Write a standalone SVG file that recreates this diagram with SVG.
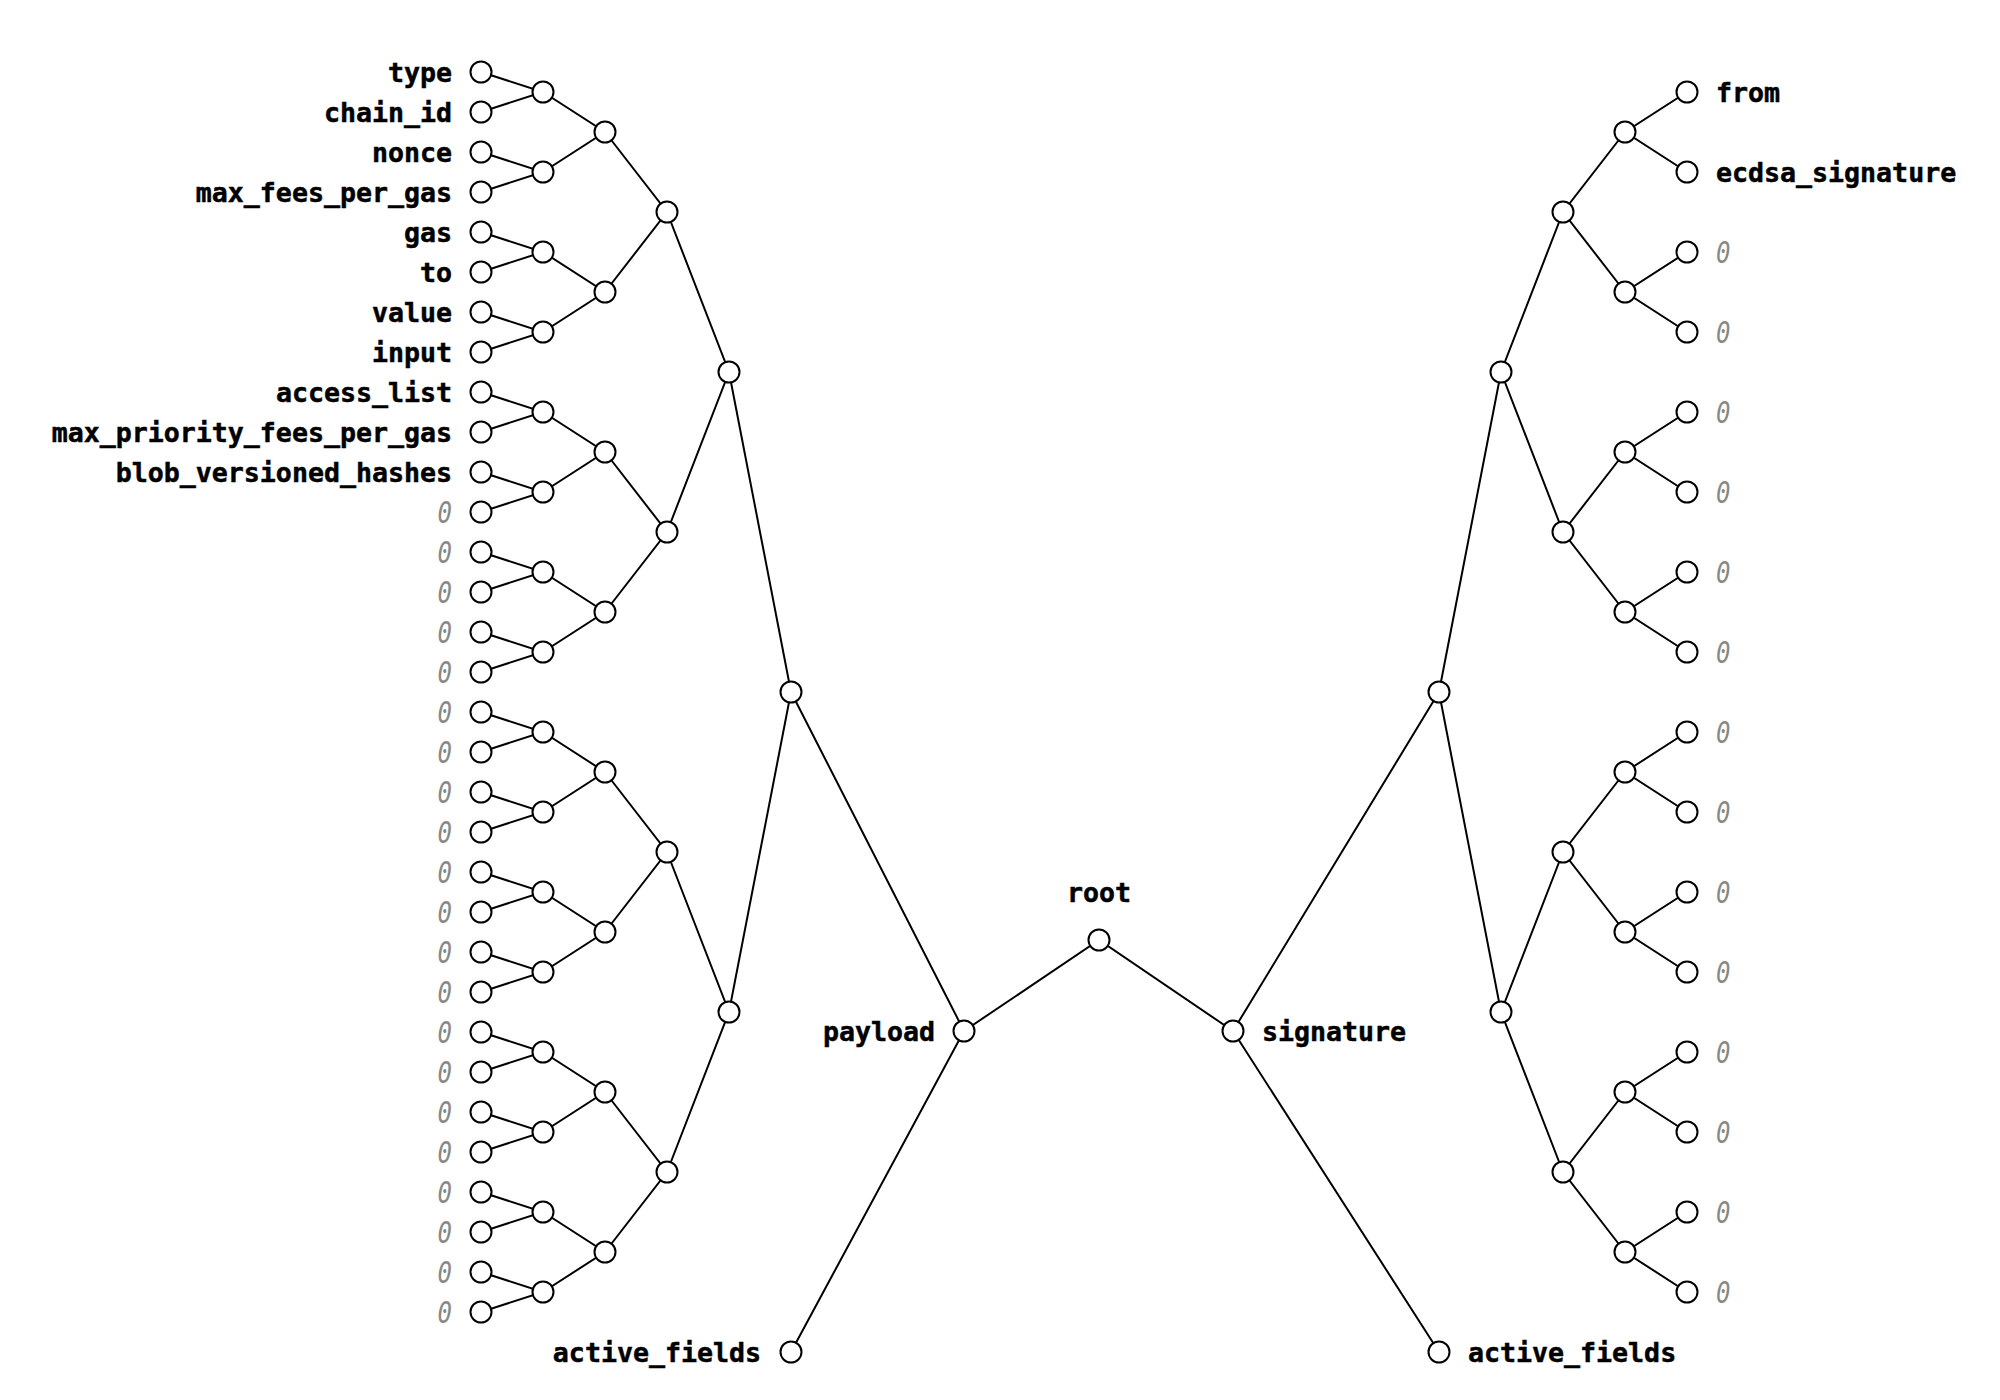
<svg xmlns="http://www.w3.org/2000/svg" width="2000" height="1400" viewBox="0 0 2000 1400">
<style>
circle{fill:#fff;stroke:#000;stroke-width:2}
#connectors path{fill:none;stroke:#000;stroke-width:2}
text{font-family:"DejaVu Sans Mono","Liberation Mono",monospace;font-size:26.6px}
.n{font-weight:bold;fill:#000;stroke:#000;stroke-width:0.5}
.z{font-style:italic;fill:#888;font-size:30px}
.e{text-anchor:end}
.m{text-anchor:middle}
</style>
<rect width="2000" height="1400" fill="#fff"/>
<g id="connectors">
<path d="M481 72L543 92L481 112M481 152L543 172L481 192M481 232L543 252L481 272M481 312L543 332L481 352M481 392L543 412L481 432M481 472L543 492L481 512M481 552L543 572L481 592M481 632L543 652L481 672M481 712L543 732L481 752M481 792L543 812L481 832M481 872L543 892L481 912M481 952L543 972L481 992M481 1032L543 1052L481 1072M481 1112L543 1132L481 1152M481 1192L543 1212L481 1232M481 1272L543 1292L481 1312"/>
<path d="M543 92L605 132L543 172M543 252L605 292L543 332M543 412L605 452L543 492M543 572L605 612L543 652M543 732L605 772L543 812M543 892L605 932L543 972M543 1052L605 1092L543 1132M543 1212L605 1252L543 1292"/>
<path d="M605 132L667 212L605 292M605 452L667 532L605 612M605 772L667 852L605 932M605 1092L667 1172L605 1252"/>
<path d="M667 212L729 372L667 532M667 852L729 1012L667 1172"/>
<path d="M729 372L791 692L729 1012"/>
<path d="M791 692L964 1031L791 1352"/>
<path d="M964 1031L1099 940L1233 1031"/>
<path d="M1439 692L1233 1031L1439 1352"/>
<path d="M1501 372L1439 692L1501 1012"/>
<path d="M1563 212L1501 372L1563 532M1563 852L1501 1012L1563 1172"/>
<path d="M1625 132L1563 212L1625 292M1625 452L1563 532L1625 612M1625 772L1563 852L1625 932M1625 1092L1563 1172L1625 1252"/>
<path d="M1687 92L1625 132L1687 172M1687 252L1625 292L1687 332M1687 412L1625 452L1687 492M1687 572L1625 612L1687 652M1687 732L1625 772L1687 812M1687 892L1625 932L1687 972M1687 1052L1625 1092L1687 1132M1687 1212L1625 1252L1687 1292"/>
</g>
<g id="left-leaves">
<g id="type"><circle cx="481" cy="72" r="10.5"/><text x="452" y="82" class="n e">type</text></g>
<g id="chain_id"><circle cx="481" cy="112" r="10.5"/><text x="452" y="122" class="n e">chain_id</text></g>
<g id="nonce"><circle cx="481" cy="152" r="10.5"/><text x="452" y="162" class="n e">nonce</text></g>
<g id="max_fees_per_gas"><circle cx="481" cy="192" r="10.5"/><text x="452" y="202" class="n e">max_fees_per_gas</text></g>
<g id="gas"><circle cx="481" cy="232" r="10.5"/><text x="452" y="242" class="n e">gas</text></g>
<g id="to"><circle cx="481" cy="272" r="10.5"/><text x="452" y="282" class="n e">to</text></g>
<g id="value"><circle cx="481" cy="312" r="10.5"/><text x="452" y="322" class="n e">value</text></g>
<g id="input"><circle cx="481" cy="352" r="10.5"/><text x="452" y="362" class="n e">input</text></g>
<g id="access_list"><circle cx="481" cy="392" r="10.5"/><text x="452" y="402" class="n e">access_list</text></g>
<g id="max_priority_fees_per_gas"><circle cx="481" cy="432" r="10.5"/><text x="452" y="442" class="n e">max_priority_fees_per_gas</text></g>
<g id="blob_versioned_hashes"><circle cx="481" cy="472" r="10.5"/><text x="452" y="482" class="n e">blob_versioned_hashes</text></g>
<g id="l11"><circle cx="481" cy="512" r="10.5"/><text x="565" y="523" class="z e" transform="scale(0.8,1)">0</text></g>
<g id="l12"><circle cx="481" cy="552" r="10.5"/><text x="565" y="563" class="z e" transform="scale(0.8,1)">0</text></g>
<g id="l13"><circle cx="481" cy="592" r="10.5"/><text x="565" y="603" class="z e" transform="scale(0.8,1)">0</text></g>
<g id="l14"><circle cx="481" cy="632" r="10.5"/><text x="565" y="643" class="z e" transform="scale(0.8,1)">0</text></g>
<g id="l15"><circle cx="481" cy="672" r="10.5"/><text x="565" y="683" class="z e" transform="scale(0.8,1)">0</text></g>
<g id="l16"><circle cx="481" cy="712" r="10.5"/><text x="565" y="723" class="z e" transform="scale(0.8,1)">0</text></g>
<g id="l17"><circle cx="481" cy="752" r="10.5"/><text x="565" y="763" class="z e" transform="scale(0.8,1)">0</text></g>
<g id="l18"><circle cx="481" cy="792" r="10.5"/><text x="565" y="803" class="z e" transform="scale(0.8,1)">0</text></g>
<g id="l19"><circle cx="481" cy="832" r="10.5"/><text x="565" y="843" class="z e" transform="scale(0.8,1)">0</text></g>
<g id="l20"><circle cx="481" cy="872" r="10.5"/><text x="565" y="883" class="z e" transform="scale(0.8,1)">0</text></g>
<g id="l21"><circle cx="481" cy="912" r="10.5"/><text x="565" y="923" class="z e" transform="scale(0.8,1)">0</text></g>
<g id="l22"><circle cx="481" cy="952" r="10.5"/><text x="565" y="963" class="z e" transform="scale(0.8,1)">0</text></g>
<g id="l23"><circle cx="481" cy="992" r="10.5"/><text x="565" y="1003" class="z e" transform="scale(0.8,1)">0</text></g>
<g id="l24"><circle cx="481" cy="1032" r="10.5"/><text x="565" y="1043" class="z e" transform="scale(0.8,1)">0</text></g>
<g id="l25"><circle cx="481" cy="1072" r="10.5"/><text x="565" y="1083" class="z e" transform="scale(0.8,1)">0</text></g>
<g id="l26"><circle cx="481" cy="1112" r="10.5"/><text x="565" y="1123" class="z e" transform="scale(0.8,1)">0</text></g>
<g id="l27"><circle cx="481" cy="1152" r="10.5"/><text x="565" y="1163" class="z e" transform="scale(0.8,1)">0</text></g>
<g id="l28"><circle cx="481" cy="1192" r="10.5"/><text x="565" y="1203" class="z e" transform="scale(0.8,1)">0</text></g>
<g id="l29"><circle cx="481" cy="1232" r="10.5"/><text x="565" y="1243" class="z e" transform="scale(0.8,1)">0</text></g>
<g id="l30"><circle cx="481" cy="1272" r="10.5"/><text x="565" y="1283" class="z e" transform="scale(0.8,1)">0</text></g>
<g id="l31"><circle cx="481" cy="1312" r="10.5"/><text x="565" y="1323" class="z e" transform="scale(0.8,1)">0</text></g>
</g>
<g id="left-inner">
<g id="a1-0"><circle cx="543" cy="92" r="10.5"/></g>
<g id="a1-1"><circle cx="543" cy="172" r="10.5"/></g>
<g id="a1-2"><circle cx="543" cy="252" r="10.5"/></g>
<g id="a1-3"><circle cx="543" cy="332" r="10.5"/></g>
<g id="a1-4"><circle cx="543" cy="412" r="10.5"/></g>
<g id="a1-5"><circle cx="543" cy="492" r="10.5"/></g>
<g id="a1-6"><circle cx="543" cy="572" r="10.5"/></g>
<g id="a1-7"><circle cx="543" cy="652" r="10.5"/></g>
<g id="a1-8"><circle cx="543" cy="732" r="10.5"/></g>
<g id="a1-9"><circle cx="543" cy="812" r="10.5"/></g>
<g id="a1-10"><circle cx="543" cy="892" r="10.5"/></g>
<g id="a1-11"><circle cx="543" cy="972" r="10.5"/></g>
<g id="a1-12"><circle cx="543" cy="1052" r="10.5"/></g>
<g id="a1-13"><circle cx="543" cy="1132" r="10.5"/></g>
<g id="a1-14"><circle cx="543" cy="1212" r="10.5"/></g>
<g id="a1-15"><circle cx="543" cy="1292" r="10.5"/></g>
<g id="a2-0"><circle cx="605" cy="132" r="10.5"/></g>
<g id="a2-1"><circle cx="605" cy="292" r="10.5"/></g>
<g id="a2-2"><circle cx="605" cy="452" r="10.5"/></g>
<g id="a2-3"><circle cx="605" cy="612" r="10.5"/></g>
<g id="a2-4"><circle cx="605" cy="772" r="10.5"/></g>
<g id="a2-5"><circle cx="605" cy="932" r="10.5"/></g>
<g id="a2-6"><circle cx="605" cy="1092" r="10.5"/></g>
<g id="a2-7"><circle cx="605" cy="1252" r="10.5"/></g>
<g id="a3-0"><circle cx="667" cy="212" r="10.5"/></g>
<g id="a3-1"><circle cx="667" cy="532" r="10.5"/></g>
<g id="a3-2"><circle cx="667" cy="852" r="10.5"/></g>
<g id="a3-3"><circle cx="667" cy="1172" r="10.5"/></g>
<g id="a4-0"><circle cx="729" cy="372" r="10.5"/></g>
<g id="a4-1"><circle cx="729" cy="1012" r="10.5"/></g>
<g id="a5-0"><circle cx="791" cy="692" r="10.5"/></g>
</g>
<g id="active_fields_left"><circle cx="791" cy="1352" r="10.5"/><text x="761" y="1362" class="n e">active_fields</text></g>
<g id="payload"><circle cx="964" cy="1031" r="10.5"/><text x="935" y="1041" class="n e">payload</text></g>
<g id="root"><circle cx="1099" cy="940" r="10.5"/><text x="1099" y="902" class="n m">root</text></g>
<g id="signature"><circle cx="1233" cy="1031" r="10.5"/><text x="1262" y="1041" class="n">signature</text></g>
<g id="active_fields_right"><circle cx="1439" cy="1352" r="10.5"/><text x="1468" y="1362" class="n">active_fields</text></g>
<g id="right-inner">
<g id="b4-0"><circle cx="1439" cy="692" r="10.5"/></g>
<g id="b3-0"><circle cx="1501" cy="372" r="10.5"/></g>
<g id="b3-1"><circle cx="1501" cy="1012" r="10.5"/></g>
<g id="b2-0"><circle cx="1563" cy="212" r="10.5"/></g>
<g id="b2-1"><circle cx="1563" cy="532" r="10.5"/></g>
<g id="b2-2"><circle cx="1563" cy="852" r="10.5"/></g>
<g id="b2-3"><circle cx="1563" cy="1172" r="10.5"/></g>
<g id="b1-0"><circle cx="1625" cy="132" r="10.5"/></g>
<g id="b1-1"><circle cx="1625" cy="292" r="10.5"/></g>
<g id="b1-2"><circle cx="1625" cy="452" r="10.5"/></g>
<g id="b1-3"><circle cx="1625" cy="612" r="10.5"/></g>
<g id="b1-4"><circle cx="1625" cy="772" r="10.5"/></g>
<g id="b1-5"><circle cx="1625" cy="932" r="10.5"/></g>
<g id="b1-6"><circle cx="1625" cy="1092" r="10.5"/></g>
<g id="b1-7"><circle cx="1625" cy="1252" r="10.5"/></g>
</g>
<g id="right-leaves">
<g id="from"><circle cx="1687" cy="92" r="10.5"/><text x="1716" y="102" class="n">from</text></g>
<g id="ecdsa_signature"><circle cx="1687" cy="172" r="10.5"/><text x="1716" y="182" class="n">ecdsa_signature</text></g>
<g id="r2"><circle cx="1687" cy="252" r="10.5"/><text x="2145" y="263" class="z" transform="scale(0.8,1)">0</text></g>
<g id="r3"><circle cx="1687" cy="332" r="10.5"/><text x="2145" y="343" class="z" transform="scale(0.8,1)">0</text></g>
<g id="r4"><circle cx="1687" cy="412" r="10.5"/><text x="2145" y="423" class="z" transform="scale(0.8,1)">0</text></g>
<g id="r5"><circle cx="1687" cy="492" r="10.5"/><text x="2145" y="503" class="z" transform="scale(0.8,1)">0</text></g>
<g id="r6"><circle cx="1687" cy="572" r="10.5"/><text x="2145" y="583" class="z" transform="scale(0.8,1)">0</text></g>
<g id="r7"><circle cx="1687" cy="652" r="10.5"/><text x="2145" y="663" class="z" transform="scale(0.8,1)">0</text></g>
<g id="r8"><circle cx="1687" cy="732" r="10.5"/><text x="2145" y="743" class="z" transform="scale(0.8,1)">0</text></g>
<g id="r9"><circle cx="1687" cy="812" r="10.5"/><text x="2145" y="823" class="z" transform="scale(0.8,1)">0</text></g>
<g id="r10"><circle cx="1687" cy="892" r="10.5"/><text x="2145" y="903" class="z" transform="scale(0.8,1)">0</text></g>
<g id="r11"><circle cx="1687" cy="972" r="10.5"/><text x="2145" y="983" class="z" transform="scale(0.8,1)">0</text></g>
<g id="r12"><circle cx="1687" cy="1052" r="10.5"/><text x="2145" y="1063" class="z" transform="scale(0.8,1)">0</text></g>
<g id="r13"><circle cx="1687" cy="1132" r="10.5"/><text x="2145" y="1143" class="z" transform="scale(0.8,1)">0</text></g>
<g id="r14"><circle cx="1687" cy="1212" r="10.5"/><text x="2145" y="1223" class="z" transform="scale(0.8,1)">0</text></g>
<g id="r15"><circle cx="1687" cy="1292" r="10.5"/><text x="2145" y="1303" class="z" transform="scale(0.8,1)">0</text></g>
</g>
</svg>
